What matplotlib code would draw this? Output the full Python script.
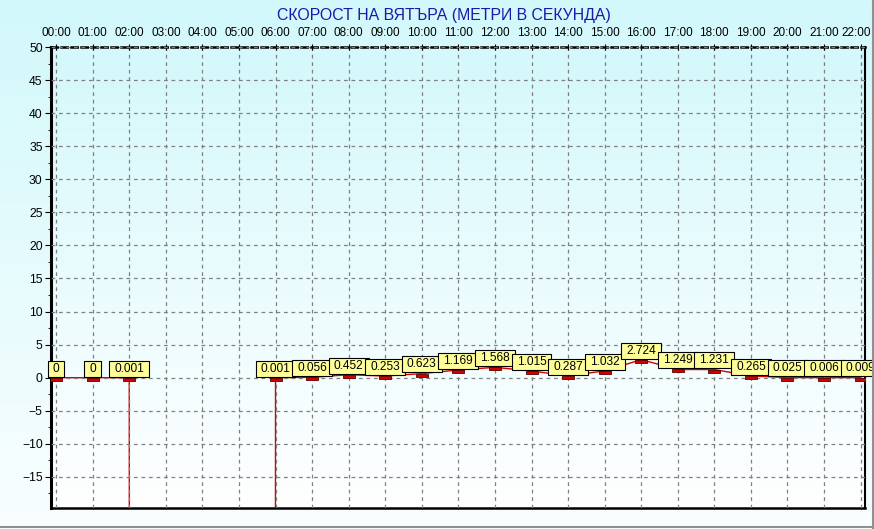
import numpy as np
import matplotlib
matplotlib.use("Agg")
import matplotlib.pyplot as plt
import matplotlib.transforms as mtransforms
from matplotlib.lines import Line2D
from matplotlib.path import Path
from matplotlib.colors import LinearSegmentedColormap

# hourly wind speed, m/s (None = no reading)
hours = ["00:00", "01:00", "02:00", "03:00", "04:00", "05:00", "06:00", "07:00",
         "08:00", "09:00", "10:00", "11:00", "12:00", "13:00", "14:00", "15:00",
         "16:00", "17:00", "18:00", "19:00", "20:00", "21:00", "22:00"]
speed = [0, 0, 0.001, None, None, None, 0.001, 0.056, 0.452, 0.253, 0.623,
         1.169, 1.568, 1.015, 0.287, 1.032, 2.724, 1.249, 1.231, 0.265,
         0.025, 0.006, 0.009]
labels = ["0", "0", "0.001", "", "", "", "0.001", "0.056", "0.452", "0.253",
          "0.623", "1.169", "1.568", "1.015", "0.287", "1.032", "2.724",
          "1.249", "1.231", "0.265", "0.025", "0.006", "0.009"]
MISSING = -9999.0  # the logger plots gaps as a huge negative value

title = "СКОРОСТ НА ВЯТЪРА (МЕТРИ В СЕКУНДА)"
y_ticks = [-15, -10, -5, 0, 5, 10, 15, 20, 25, 30, 35, 40, 45, 50]

DPI = 100
plt.rcParams["font.family"] = ["Liberation Sans", "DejaVu Sans"]


def label_box(x0, y0, width, height, mutation_size):
    # wide, fixed-height box like the data logger's value tags (pixels)
    padx = 5.0
    h = 16.0
    cy = y0 + height / 2
    l, r = x0 - padx, x0 + width + padx
    b, t = cy - h / 2, cy + h / 2
    return Path([(l, b), (r, b), (r, t), (l, t), (l, b)], closed=True)


fig = plt.figure(figsize=(8.74, 5.29), dpi=DPI)

# figure background gradient
grad = LinearSegmentedColormap.from_list("bg", ["#d2f8fb", "#ffffff"])
bg = fig.add_axes([0, 0, 1, 1], zorder=-10)
bg.imshow(np.linspace(0, 1, 256).reshape(-1, 1), aspect="auto", cmap=grad,
          extent=[0, 1, 0, 1], vmin=0, vmax=1.15)
bg.set_axis_off()
fig.add_artist(Line2D([0, 1], [0.004, 0.004], color="#909090", lw=1.5))
fig.add_artist(Line2D([0.999, 0.999], [0, 1], color="#909090", lw=1.5))

ax = fig.add_axes([51 / 874, 1 - 508 / 529, (865 - 51) / 874, (508 - 47) / 529])
ax.patch.set_alpha(0)
ax.imshow(np.linspace(0, 1, 256).reshape(-1, 1), aspect="auto", cmap=grad,
          extent=[0, 1, 0, 1], transform=ax.transAxes, vmin=-0.05, vmax=1.0,
          zorder=0)

x = np.arange(len(hours))
y_line = np.array([MISSING if v is None else v for v in speed])
ax.plot(x, y_line, color="#d80000", lw=1, zorder=2)

valid = [i for i, v in enumerate(speed) if v is not None]
rect = [(-1, 0), (1, 0), (1, -0.55), (-1, -0.55), (-1, 0)]
ax.plot(x[valid], y_line[valid], linestyle="none", marker=rect, markersize=9,
        markerfacecolor="#d00000", markeredgecolor="#600000",
        markeredgewidth=0.6, zorder=3)

for i in valid:
    ax.annotate(labels[i], (x[i], y_line[i]), xytext=(0, 6.6),
                textcoords="offset points", ha="center", va="center",
                fontsize=8.6, color="black", zorder=5, annotation_clip=False,
                bbox=dict(boxstyle=label_box, fc="#ffff99",
                          ec="black", lw=0.8))

ax.set_xlim(-0.14, 22.12)
ax.set_ylim(-19.7, 50)
ax.set_xticks(x)
ax.set_xticklabels(hours)
ax.set_yticks(y_ticks)
ax.set_yticks(np.arange(-17.5, 50, 2.5), minor=True)
ax.xaxis.tick_top()
ax.tick_params(axis="x", which="major", labelsize=8.5, length=4,
               direction="inout", pad=4, colors="black")
ax.tick_params(axis="y", which="major", labelsize=8.7, length=4,
               direction="out", pad=2, colors="black")
ax.tick_params(axis="y", which="minor", length=2, direction="out")

# nudge the last hour label so it stays inside the window
last = ax.get_xticklabels()[-1]
last.set_transform(last.get_transform() +
                   mtransforms.ScaledTranslation(-3 / 72, 0, fig.dpi_scale_trans))

ax.grid(True, which="major", color="#808080", linestyle=(0, (3, 3)), lw=0.9)
ax.set_axisbelow(False)
for gl in ax.get_xgridlines() + ax.get_ygridlines():
    gl.set_zorder(1)

ax.spines["left"].set_linewidth(2.2)
ax.spines["bottom"].set_linewidth(1.8)
ax.spines["right"].set_linewidth(1.5)
ax.spines["top"].set_linewidth(1.8)
ax.spines["top"].set_linestyle((0, (2.5, 1.5)))

fig.text(0.508, 0.971, title, ha="center", va="center", fontsize=11.4,
         color="#1a1aa8")

fig.savefig("out.png", dpi=DPI)
